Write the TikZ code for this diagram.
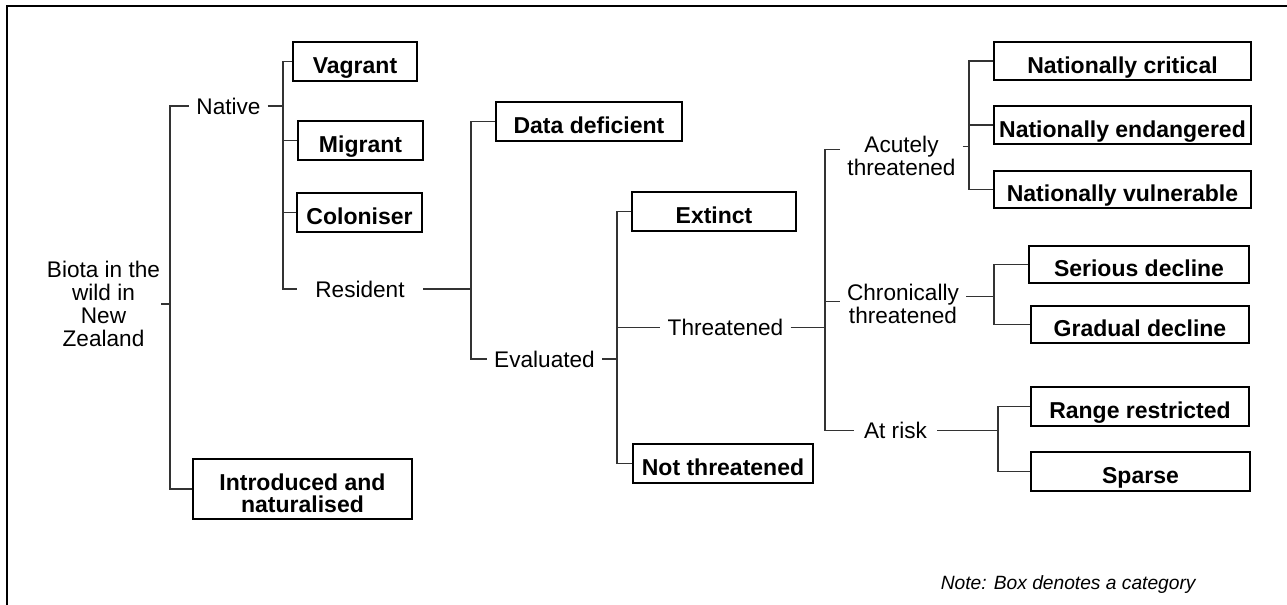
\documentclass[tikz,border=0pt]{standalone}
\usepackage{fontspec}
\setmainfont{Liberation Sans}

\begin{document}
\begin{tikzpicture}
  [x=0.5pt, y=-0.5pt, font=\fontsize{11.3}{11.5}\selectfont, nodes={inner sep=0pt}]
  \tikzset{category/.style 2 args={draw, line width=1pt, font=\fontsize{11.5}{11}\selectfont\bfseries, text height=12.2pt, text depth=0pt, minimum width=#1, minimum height=#2}}
  \tikzset{term/.style={inner xsep=3.5pt, text height=8.1pt, text depth=0pt}}
  \tikzset{stacked/.style={inner xsep=3.5pt, align=center}}
  \tikzset{link/.style={draw=black!80, line width=0.6pt}}
  \tikzset{note/.style={font=\fontsize{9.6}{11}\selectfont\itshape}}

  \useasboundingbox (0,0) rectangle (1287,605);
  \draw[line width=0.9pt] (7,6) rectangle (1400,700);

  % categories
  \node[category={62pt}{19.5pt}] (VA) at (355,61.5) {Vagrant};
  \node[category={62.5pt}{19.5pt}] (MI) at (360.5,140.5) {Migrant};
  \node[category={62.5pt}{19.5pt}] (CL) at (359.5,212.5) {Coloniser};
  \node[category={109.5pt}{30pt}, align=center, text height=, text depth=] (IN) at (302.5,489) {\rule{0pt}{13pt}Introduced and\\naturalised};
  \node[category={93pt}{19.5pt}] (DD) at (589,121.5) {Data deficient};
  \node[category={82pt}{19.5pt}] (EX) at (714,211.5) {Extinct};
  \node[category={90pt}{19.5pt}] (NT) at (723,463.5) {Not threatened};
  \node[category={128.5pt}{19pt}] (NC) at (1122.5,61) {Nationally critical};
  \node[category={128.5pt}{19pt}] (NE) at (1122.5,125) {Nationally endangered};
  \node[category={128.5pt}{18.5pt}] (NV) at (1122.5,189.5) {Nationally vulnerable};
  \node[category={110pt}{18.5pt}] (SD) at (1139,264.5) {Serious decline};
  \node[category={109pt}{18.5pt}] (GD) at (1140,324.5) {Gradual decline};
  \node[category={109pt}{19.5pt}] (RR) at (1140,406.5) {Range restricted};
  \node[category={109.5pt}{19.5pt}] (SP) at (1140.5,471.5) {Sparse};

  % plain terms
  \node[stacked, inner xsep=0.5pt] (BI) at (103.5,304) {Biota in the\\wild in\\New\\Zealand};
  \node[term] (NA) at (228.5,106) {Native};
  \node[term, inner xsep=9pt] (RE) at (360,289) {Resident};
  \node[term] (EV) at (544.5,359) {Evaluated};
  \node[term] (TH) at (725.5,327.5) {Threatened};
  \node[stacked] (AT) at (901.5,156.4) {Acutely\\threatened};
  \node[stacked] (CT) at (903,303.6) {Chronically\\threatened};
  \node[term, inner xsep=5pt] (AR) at (895.5,430.5) {At risk};

  \node[note, anchor=base east] (NO) at (1196,589) {Note: Box denotes a category};

  % spines
  \coordinate (b1) at (170,0);
  \coordinate (b2) at (283,0);
  \coordinate (b3) at (471,0);
  \coordinate (b4) at (617,0);
  \coordinate (b5) at (825,0);
  \coordinate (b6) at (969,0);
  \coordinate (b7) at (994,0);
  \coordinate (b8) at (998,0);

  % Biota
  \draw[link] (BI.east) -| (b1 |- NA.west) -- (NA.west);
  \draw[link] (BI.east) -| (b1 |- IN.west) -- (IN.west);

  % Native
  \draw[link] (NA.east) -| (b2 |- VA.west) -- (VA.west);
  \draw[link] (NA.east) -| (b2 |- RE.west) -- (RE.west);
  \draw[link] (b2 |- MI.west) -- (MI.west);
  \draw[link] (b2 |- CL.west) -- (CL.west);

  % Resident
  \draw[link] (RE.east) -| (b3 |- DD.west) -- (DD.west);
  \draw[link] (RE.east) -| (b3 |- EV.west) -- (EV.west);

  % Evaluated
  \draw[link] (EV.east) -| (b4 |- EX.west) -- (EX.west);
  \draw[link] (EV.east) -| (b4 |- NT.west) -- (NT.west);
  \draw[link] (b4 |- TH.west) -- (TH.west);

  % Threatened
  \draw[link] ([yshift=3.5pt]AT.west) -| (b5 |- AR.west) -- (AR.west);
  \draw[link] (TH.east) -- (TH.east -| b5);
  \draw[link] ([yshift=1pt]CT.west) -| (b5 |- TH.east);

    % Acutely threatened
    \draw[link] ([yshift=5pt]AT.east) -| (b6 |- NC.west) -- (NC.west);
    \draw[link] ([yshift=5pt]AT.east) -| (b6 |- NV.west) -- (NV.west);
    \draw[link] (b6 |- NE.west) -- (NE.west);

    % Chronically threatened
    \draw[link] ([yshift=3.5pt]CT.east) -| (b7 |- SD.west) -- (SD.west);
    \draw[link] ([yshift=3.5pt]CT.east) -| (b7 |- GD.west) -- (GD.west);

    % At risk
    \draw[link] (AR.east) -| (b8 |- RR.west) -- (RR.west);
    \draw[link] (AR.east) -| (b8 |- SP.west) -- (SP.west);
\end{tikzpicture}
\end{document}
